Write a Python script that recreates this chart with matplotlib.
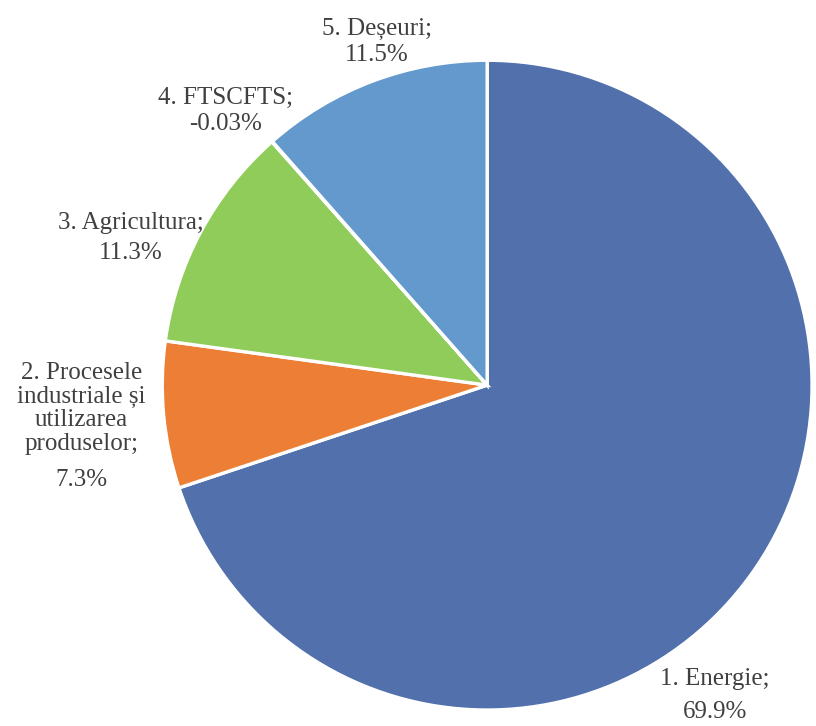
import matplotlib.pyplot as plt

names = ["1. Energie;",
         "2. Procesele\nindustriale și\nutilizarea\nproduselor;",
         "3. Agricultura;",
         "4. FTSCFTS;",
         "5. Deșeuri;"]
values = [69.9, 7.3, 11.3, -0.03, 11.5]
colors = ['#5170AC', '#EC7E36', '#8FCC5A', '#A5A5A5', '#6399CC']

# label centres (axes data coords, pie radius = 1): name line(s) and value line
label_x = [0.70, -1.249, -1.098, -0.806, -0.34]
name_y = [-0.905, -0.072, 0.498, 0.885, 1.095]
value_y = [-1.005, -0.292, 0.407, 0.805, 1.015]

fig = plt.figure(figsize=(8.16, 7.26), dpi=100)
ax = fig.add_axes([0.1985, 0.022, 0.797, 0.895])

wedges, _ = ax.pie([abs(v) for v in values], colors=colors, startangle=90, counterclock=False,
                   wedgeprops=dict(edgecolor='white', linewidth=2.4))
ax.set_xlim(-1, 1)
ax.set_ylim(-1, 1)
ax.set_aspect('equal')

style = dict(ha='center', va='center', fontsize=18, color='#404040',
             family='Liberation Serif', clip_on=False)
for name, v, x, yn, yv in zip(names, values, label_x, name_y, value_y):
    ax.text(x, yn, name, linespacing=1.08, **style)
    ax.text(x, yv, f"{v}%", **style)

fig.savefig('out.png', dpi=100)
